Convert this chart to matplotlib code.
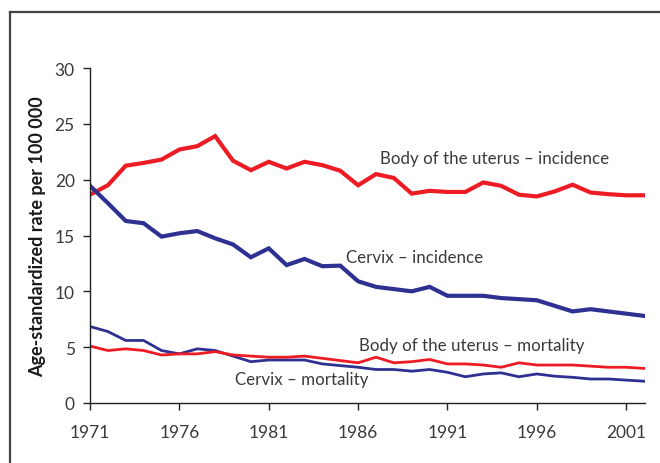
import matplotlib
matplotlib.use("Agg")
import matplotlib.pyplot as plt
from matplotlib.lines import Line2D

years = list(range(1971, 2003))
uterus_incidence = [18.65, 19.5, 21.25, 21.5, 21.8, 22.7, 23.0, 23.9, 21.7, 20.85,
                    21.6, 21.0, 21.6, 21.3, 20.8, 19.5, 20.5, 20.15, 18.75, 19.0,
                    18.9, 18.9, 19.75, 19.45, 18.65, 18.5, 18.95, 19.55, 18.85, 18.7,
                    18.6, 18.6]
cervix_incidence = [19.45, 17.9, 16.3, 16.1, 14.9, 15.2, 15.4, 14.75, 14.2, 13.05,
                    13.85, 12.35, 12.9, 12.25, 12.3, 10.9, 10.4, 10.2, 10.0, 10.4,
                    9.6, 9.6, 9.6, 9.4, 9.3, 9.2, 8.7, 8.2, 8.4, 8.2,
                    8.0, 7.8]
cervix_mortality = [6.85, 6.4, 5.6, 5.6, 4.7, 4.4, 4.85, 4.7, 4.2, 3.7,
                    3.85, 3.85, 3.85, 3.5, 3.35, 3.2, 3.0, 3.0, 2.85, 3.0,
                    2.75, 2.35, 2.6, 2.7, 2.35, 2.6, 2.4, 2.3, 2.15, 2.15,
                    2.05, 1.95]
uterus_mortality = [5.1, 4.7, 4.85, 4.7, 4.3, 4.4, 4.4, 4.6, 4.3, 4.2,
                    4.1, 4.1, 4.2, 4.0, 3.8, 3.6, 4.1, 3.6, 3.7, 3.9,
                    3.5, 3.5, 3.4, 3.2, 3.6, 3.4, 3.4, 3.4, 3.3, 3.2,
                    3.2, 3.1]
xticks = [1971, 1976, 1981, 1986, 1991, 1996, 2001]
yticks = [0, 5, 10, 15, 20, 25, 30]

RED = "#ED1C24"
BLUE = "#2E3192"
TXT = "#3a3a3a"

plt.rcParams['font.family'] = ['Lato', 'DejaVu Sans']

fig = plt.figure(figsize=(6.6, 4.64), dpi=100)
ax = fig.add_axes([90/660, 60/464, 555/660, 335/464])

ax.plot(years, uterus_incidence, color=RED, lw=3.0, solid_joinstyle='miter')
ax.plot(years, cervix_incidence, color=BLUE, lw=3.0, solid_joinstyle='miter')
ax.plot(years, cervix_mortality, color=BLUE, lw=2.0)
ax.plot(years, uterus_mortality, color=RED, lw=2.0)

ax.set_xlim(1971, 2002.05)
ax.set_ylim(0, 30)
ax.set_xticks(xticks)
ax.set_xticklabels([str(x) for x in xticks])
ax.set_yticks(yticks)
ax.set_yticklabels([str(y) for y in yticks])
for s in ['top', 'right']:
    ax.spines[s].set_visible(False)
for s in ['left', 'bottom']:
    ax.spines[s].set_color('#222222')
    ax.spines[s].set_linewidth(1.0)
ax.tick_params(axis='both', direction='out', length=5, width=1.0, colors='#222222',
               labelcolor=TXT, labelsize=12.5)
ax.tick_params(axis='x', pad=10)
ax.tick_params(axis='y', pad=6)
ax.set_ylabel("Age-standardized rate per 100 000", fontsize=13, fontweight='bold',
              color='#1a1a1a', labelpad=6)

kw = dict(fontsize=12.2, color=TXT, ha='left', va='center')
ax.text(1987.23, 21.9, "Body of the uterus – incidence", **kw)
ax.text(1985.33, 13.1, "Cervix – incidence", **kw)
ax.text(1986.05, 5.2, "Body of the uterus – mortality", **kw)
ax.text(1979.11, 2.15, "Cervix – mortality", **kw)

# outer frame (top and left)
fig.add_artist(Line2D([10/660, 1.0], [1 - 13/464, 1 - 13/464], transform=fig.transFigure,
                      color='#444444', lw=1.6))
fig.add_artist(Line2D([10/660, 10/660], [0.0, 1 - 13/464], transform=fig.transFigure,
                      color='#444444', lw=1.6))

fig.savefig("out.png", dpi=100)
